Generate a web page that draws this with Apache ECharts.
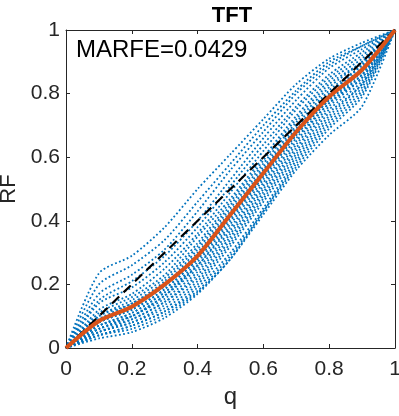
<!DOCTYPE html>
<html>
<head>
<meta charset="utf-8">
<script src="https://cdn.jsdelivr.net/npm/echarts@6/dist/echarts.min.js"></script>
<style>
  html, body { margin: 0; padding: 0; background: #fff; }
  #chart { width: 399px; height: 416px; }
</style>
</head>
<body>
<div id="chart"></div>
<script>
// q 取值
var qValues = [0, 0.1, 0.2, 0.3, 0.4, 0.5, 0.6, 0.7, 0.8, 0.9, 1];
var tickLabels = ['0', '0.2', '0.4', '0.6', '0.8', '1'];

// 各次模拟的 RF 曲线（蓝色点线）
var rfRuns = [
  [0, 0.235, 0.29, 0.38, 0.50, 0.61, 0.72, 0.83, 0.91, 0.96, 1],
  [0, 0.20, 0.26, 0.34, 0.46, 0.58, 0.70, 0.81, 0.90, 0.95, 1],
  [0, 0.17, 0.23, 0.31, 0.43, 0.56, 0.68, 0.80, 0.89, 0.95, 1],
  [0, 0.15, 0.21, 0.29, 0.40, 0.53, 0.66, 0.78, 0.88, 0.94, 1],
  [0, 0.14, 0.19, 0.27, 0.38, 0.51, 0.64, 0.76, 0.86, 0.93, 1],
  [0, 0.12, 0.17, 0.25, 0.36, 0.49, 0.62, 0.75, 0.85, 0.92, 1],
  [0, 0.11, 0.16, 0.23, 0.35, 0.47, 0.60, 0.73, 0.84, 0.91, 1],
  [0, 0.10, 0.15, 0.22, 0.33, 0.46, 0.59, 0.72, 0.83, 0.90, 1],
  [0, 0.10, 0.14, 0.21, 0.32, 0.45, 0.58, 0.71, 0.82, 0.90, 1],
  [0, 0.09, 0.14, 0.20, 0.31, 0.44, 0.57, 0.70, 0.81, 0.89, 1],
  [0, 0.09, 0.13, 0.195, 0.30, 0.43, 0.56, 0.69, 0.80, 0.89, 1],
  [0, 0.08, 0.13, 0.195, 0.29, 0.42, 0.56, 0.69, 0.80, 0.88, 1],
  [0, 0.08, 0.12, 0.185, 0.28, 0.41, 0.55, 0.68, 0.79, 0.88, 1],
  [0, 0.08, 0.12, 0.185, 0.28, 0.41, 0.54, 0.68, 0.79, 0.87, 1],
  [0, 0.07, 0.11, 0.175, 0.27, 0.40, 0.54, 0.67, 0.78, 0.87, 1],
  [0, 0.07, 0.11, 0.175, 0.26, 0.39, 0.53, 0.67, 0.78, 0.86, 1],
  [0, 0.07, 0.10, 0.165, 0.26, 0.38, 0.52, 0.66, 0.77, 0.86, 1],
  [0, 0.06, 0.10, 0.165, 0.25, 0.37, 0.51, 0.65, 0.77, 0.85, 1],
  [0, 0.06, 0.10, 0.155, 0.24, 0.36, 0.50, 0.64, 0.76, 0.85, 1],
  [0, 0.06, 0.09, 0.145, 0.23, 0.35, 0.49, 0.63, 0.75, 0.84, 1],
  [0, 0.05, 0.09, 0.145, 0.22, 0.34, 0.48, 0.62, 0.74, 0.83, 1],
  [0, 0.05, 0.08, 0.135, 0.21, 0.33, 0.47, 0.61, 0.73, 0.83, 1],
  [0, 0.05, 0.08, 0.125, 0.20, 0.32, 0.46, 0.60, 0.72, 0.82, 1],
  [0, 0.04, 0.07, 0.115, 0.19, 0.30, 0.44, 0.59, 0.71, 0.81, 1],
  [0, 0.04, 0.07, 0.115, 0.18, 0.29, 0.43, 0.58, 0.70, 0.80, 1],
  [0, 0.04, 0.06, 0.105, 0.175, 0.28, 0.43, 0.57, 0.69, 0.79, 1],
  [0, 0.03, 0.05, 0.095, 0.17, 0.28, 0.42, 0.56, 0.67, 0.76, 1]
];

// 平均曲线（橙色）
var rfMean = [0, 0.085, 0.13, 0.20, 0.29, 0.42, 0.55, 0.68, 0.79, 0.875, 1];
// 对角参考线
var diagQ = [0, 1];
var diagRF = [0, 1];

var titleText = 'TFT';
var marfeText = 'MARFE=0.0429';

var FONT = '"Liberation Sans", Arial, sans-serif';
var AXIS_COLOR = '#262626';

function toPairs(xs, ys) {
  return xs.map(function(x, i) { return [x, ys[i]]; });
}

var series = [];
rfRuns.forEach(function(run, i) {
  series.push({
    name: 'run' + i,
    type: 'line',
    data: toPairs(qValues, run),
    smooth: 0.25,
    showSymbol: false,
    silent: true,
    lineStyle: { color: '#0072BD', width: 1.8, type: [1.8, 2.4] },
    z: 2
  });
});
series.push({
  name: 'diag',
  type: 'line',
  data: toPairs(diagQ, diagRF),
  showSymbol: false,
  silent: true,
  lineStyle: { color: '#000', width: 2.2, type: [10, 6] },
  z: 3
});
series.push({
  name: 'mean',
  type: 'line',
  data: toPairs(qValues, rfMean),
  smooth: 0.25,
  showSymbol: false,
  silent: true,
  lineStyle: { color: '#D95319', width: 4 },
  z: 4
});

function labelFmt(v) {
  return tickLabels[Math.round(v / 0.2)];
}

function makeAxis(pos, show, extra) {
  var a = {
    type: 'value',
    position: pos,
    min: 0,
    max: 1,
    interval: 0.2,
    axisLine: { show: true, onZero: false, lineStyle: { color: AXIS_COLOR, width: 1 } },
    axisTick: { show: true, inside: true, length: 4, lineStyle: { color: AXIS_COLOR } },
    splitLine: { show: false },
    axisLabel: { show: show, color: AXIS_COLOR, fontFamily: FONT, fontSize: 21, formatter: labelFmt }
  };
  return Object.assign(a, extra || {});
}

var chart = echarts.init(document.getElementById('chart'), null, { renderer: 'canvas' });
chart.setOption({
  animation: false,
  backgroundColor: '#fff',
  title: {
    text: titleText,
    left: 227,
    top: 0,
    textAlign: 'center',
    textStyle: { fontFamily: FONT, fontSize: 22, fontWeight: 'bold', color: '#000' }
  },
  grid: { left: 66, right: 4, top: 30, bottom: 68, containLabel: false, outerBoundsMode: 'none' },
  xAxis: [
    makeAxis('bottom', true, {
      name: 'q',
      nameLocation: 'middle',
      nameGap: 36,
      nameTextStyle: { fontFamily: FONT, fontSize: 24, color: AXIS_COLOR },
      axisLabel: { show: true, color: AXIS_COLOR, fontFamily: FONT, fontSize: 21, margin: 11, formatter: labelFmt }
    }),
    makeAxis('top', false)
  ],
  yAxis: [
    makeAxis('left', true, {
      name: 'RF',
      nameLocation: 'middle',
      nameGap: 44,
      nameTextStyle: { fontFamily: FONT, fontSize: 22, color: AXIS_COLOR },
      axisLabel: { show: true, color: AXIS_COLOR, fontFamily: FONT, fontSize: 21, margin: 6, formatter: labelFmt }
    }),
    makeAxis('right', false)
  ],
  graphic: [{
    type: 'text',
    left: 76,
    top: 38,
    silent: true,
    style: { text: marfeText, fontFamily: FONT, fontSize: 24, fill: '#000' }
  }],
  series: series
});

window.onresize = function() {
  chart.resize();
};
</script>
</body>
</html>
